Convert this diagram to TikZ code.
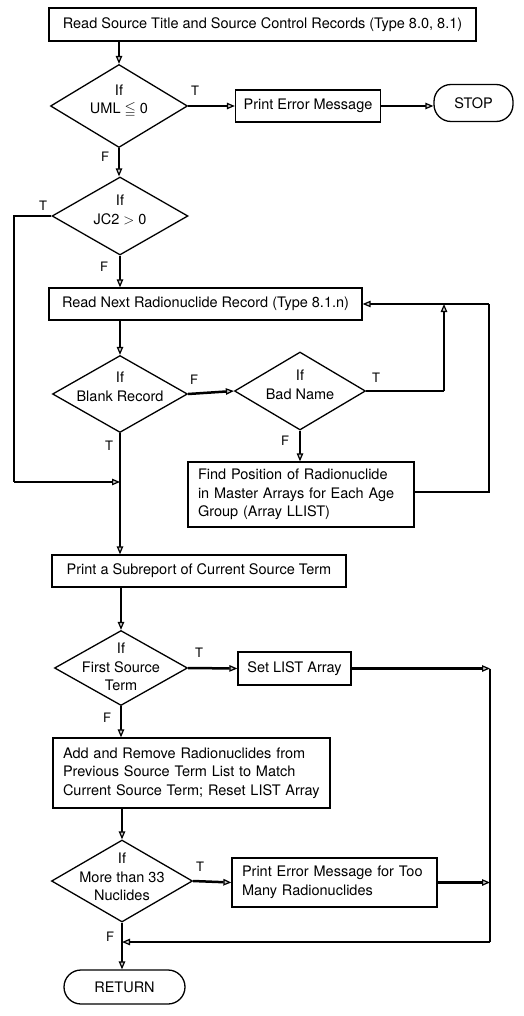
\documentclass[tikz,border=0pt]{standalone}
\usepackage{fontspec}
\setmainfont{TeX Gyre Heros}
\usepackage{amssymb}
\usetikzlibrary{shapes.geometric,arrows.meta}
\begin{document}
\begin{tikzpicture}[x=1pt,y=-1pt,
  every node/.style={font=\fontsize{14.5}{18.5}\selectfont},
  box/.style={draw,line width=1.3pt,inner sep=0pt,align=center},
  lbox/.style={draw,line width=1.3pt,inner ysep=0pt,inner xsep=10pt,align=left},
  term/.style={draw,line width=1.3pt,inner sep=0pt,rounded corners=17pt},
  dec/.style={draw,diamond,line width=1.3pt,inner sep=0pt},
  dtext/.style={align=center,inner sep=0pt},
  lab/.style={font=\fontsize{13}{14}\selectfont},
  conn/.style={line width=2.5pt},
  arr/.style={line width=2.5pt,-{Triangle[open,length=8pt,width=6.5pt,line width=1.2pt,fill=gray!40]}}
]
\useasboundingbox (0,0) rectangle (524,1016);

% nodes
\node[box,minimum width=427pt,minimum height=33pt] (b1) at (262.5,24.5)
  {Read Source Title and Source Control Records (Type 8.0, 8.1)};
\node[dec,minimum width=137pt,minimum height=83pt] (d1) at (119,106) {};
\node[dtext] (d1t) at (119,101) {If\\UML $\leqq$ 0};
\node[box,minimum width=145pt,minimum height=32pt] (err1) at (308,106)
  {Print Error Message};
\node[term,minimum width=79pt,minimum height=37pt] (stop) at (473.5,103) {STOP};
\node[dec,minimum width=136pt,minimum height=78pt] (d2) at (120,216) {};
\node[dtext] (d2t) at (120,210) {If\\JC2 $>$ 0};
\node[box,minimum width=313pt,minimum height=32pt] (rn) at (205.5,304)
  {Read Next Radionuclide Record (Type 8.1.n)};
\node[dec,minimum width=135pt,minimum height=77pt] (d3) at (120,394) {};
\node[dtext] (d3t) at (120,387) {If\\Blank Record};
\node[dec,minimum width=131pt,minimum height=78pt] (d4) at (300,391) {};
\node[dtext] (d4t) at (300,385) {If\\Bad Name};
\node[lbox,text width=206pt,minimum height=65pt] (fp) at (301,494.5)
  {Find Position of Radionuclide\\in Master Arrays for Each Age\\Group (Array LLIST)};
\node[box,minimum width=294pt,minimum height=32pt] (sr) at (199,571)
  {Print a Subreport of Current Source Term};
\node[dec,minimum width=133pt,minimum height=75pt] (d5) at (121,668) {};
\node[dtext] (d5t) at (121,667) {If\\First Source\\Term};
\node[box,minimum width=113pt,minimum height=33pt] (sl) at (294.5,668.5)
  {Set LIST Array};
\node[lbox,text width=257pt,minimum height=70pt] (ar) at (191.5,773)
  {Add and Remove Radionuclides from\\Previous Source Term List to Match\\Current Source Term; Reset LIST Array};
\node[dec,minimum width=141pt,minimum height=82pt] (d6) at (122,881) {};
\node[dtext] (d6t) at (122,877) {If\\More than 33\\Nuclides};
\node[lbox,text width=185pt,minimum height=49pt] (err2) at (334.5,882.5)
  {Print Error Message for Too\\Many Radionuclides};
\node[term,minimum width=121pt,minimum height=34pt] (ret) at (124.5,987) {RETURN};

% coordinates
\coordinate (l1) at (14,216);
\coordinate (l2) at (14,482);
\coordinate (j1) at (120,482);
\coordinate (t1) at (444,391);
\coordinate (t2) at (444,304);
\coordinate (r1) at (489,492);
\coordinate (r2) at (489,304);
\coordinate (s1) at (490,668.5);
\coordinate (s2) at (490,882.5);
\coordinate (s3) at (490,942);
\coordinate (j2) at (122,942);

% connectors
\draw[arr] (b1.south -| d1.north) -- (d1.north);
\draw[arr] (d1.east) -- (err1.west);
\draw[arr] (err1.east) -- (err1.east -| stop.west);
\draw[arr] (d1.south) -- (d1.south |- d2.north);
\draw[conn] (d2.west) -- (l1) -- (l2);
\draw[arr] (l2) -- (j1);
\draw[arr] (d2.south) -- (d2.south |- rn.north);
\draw[arr] (rn.south -| d3.north) -- (d3.north);
\draw[arr] (d3.east) -- (d4.west);
\draw[conn] (d4.east) -- (t1);
\draw[arr] (t1) -- (t2);
\draw[arr] (d4.south) -- (d4.south |- fp.north);
\draw[conn] (fp.east |- r1) -- (r1) -- (r2);
\draw[arr] (r2) -- (rn.east);
\draw[arr] (d3.south) -- (d3.south |- sr.north);
\draw[arr] (sr.south -| d5.north) -- (d5.north);
\draw[arr] (d5.east) -- (sl.west);
\draw[arr] (sl.east) -- (s1);
\draw[conn] (s1) -- (s3);
\draw[arr] (s3) -- (j2);
\draw[arr] (d5.south) -- (d5.south |- ar.north);
\draw[arr] (ar.south -| d6.north) -- (d6.north);
\draw[arr] (d6.east) -- (err2.west);
\draw[arr] (err2.east) -- (s2);
\draw[arr] (d6.south) -- (d6.south |- ret.north);

% labels
\node[lab] (lt1) at (195,91) {T};
\node[lab] (lf1) at (105,157) {F};
\node[lab] (lt2) at (43,206) {T};
\node[lab] (lf2) at (104,267) {F};
\node[lab] (lf3) at (194,380) {F};
\node[lab] (lt4) at (376,378) {T};
\node[lab] (lf4) at (285,441) {F};
\node[lab] (lt3) at (109,446) {T};
\node[lab] (lt5) at (199,653) {T};
\node[lab] (lf5) at (107,718) {F};
\node[lab] (lt6) at (200,867) {T};
\node[lab] (lf6) at (110,937) {F};
\end{tikzpicture}
\end{document}
